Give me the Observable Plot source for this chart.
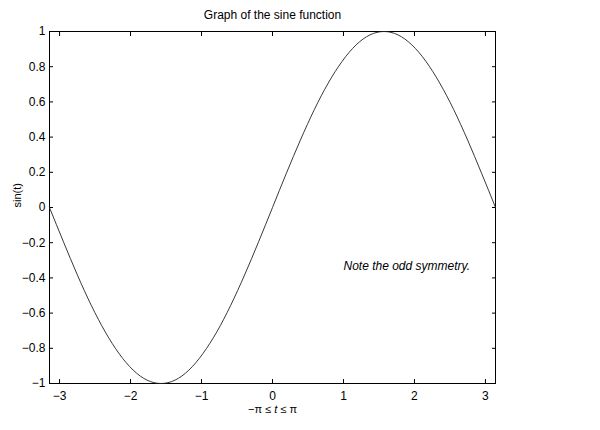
<!DOCTYPE html>
<html>
<head>
<meta charset="utf-8">
<script src="https://cdn.jsdelivr.net/npm/d3@7"></script>
<script src="https://cdn.jsdelivr.net/npm/@observablehq/plot@0.6"></script>
<style>
  html, body { margin: 0; padding: 0; background: white; }
</style>
</head>
<body>
<div id="chart"></div>
<script>
// Values
const tValues = [-3.142, -2.945, -2.749, -2.553, -2.356, -2.160, -1.963, -1.767, -1.571, -1.374, -1.178, -0.982, -0.785, -0.589, -0.393, -0.196,
  0, 0.196, 0.393, 0.589, 0.785, 0.982, 1.178, 1.374, 1.571, 1.767, 1.963, 2.160, 2.356, 2.553, 2.749, 2.945, 3.142];
const sinValues = [0, -0.195, -0.383, -0.556, -0.707, -0.831, -0.924, -0.981, -1.000, -0.981, -0.924, -0.831, -0.707, -0.556, -0.383, -0.195,
  0, 0.195, 0.383, 0.556, 0.707, 0.831, 0.924, 0.981, 1.000, 0.981, 0.924, 0.831, 0.707, 0.556, 0.383, 0.195, 0];
const xTicks = [-3, -2, -1, 0, 1, 2, 3];
const yTicks = [-1, -0.8, -0.6, -0.4, -0.2, 0, 0.2, 0.4, 0.6, 0.8, 1];
const titleText = "Graph of the sine function";
const xLabelText = "\u2212\u03c0 \u2264 t \u2264 \u03c0";
const yLabelText = "sin(t)";
const note = [{t: 1, v: -1 / 3, label: "Note the odd symmetry."}];

const data = tValues.map((t, i) => ({t, v: sinValues[i]}));
const fmt = d => (d < 0 ? "\u2212" : "") + String(Math.abs(Math.round(d * 10) / 10));
const blank = () => "";

const chart = Plot.plot({
  width: 600,
  height: 430,
  marginLeft: 49,
  marginRight: 105,
  marginTop: 31,
  marginBottom: 47,
  x: {domain: [-Math.PI, Math.PI]},
  y: {domain: [-1, 1]},
  style: {fontFamily: "'Liberation Sans', Arial, Helvetica, sans-serif", fontSize: "12px", background: "white", color: "black"},
  marks: [
    Plot.frame({stroke: "black", strokeWidth: 1}),
    Plot.axisX(xTicks, {anchor: "bottom", tickSize: -4, tickPadding: 12, tickFormat: fmt, label: null, stroke: "black", fontSize: 12}),
    Plot.axisX(xTicks, {anchor: "top", tickSize: -4, tickFormat: blank, label: null, stroke: "black"}),
    Plot.axisY(yTicks, {anchor: "left", tickSize: -4, tickPadding: 8, tickFormat: fmt, label: null, stroke: "black", fontSize: 12}),
    Plot.axisY(yTicks, {anchor: "right", tickSize: -4, tickFormat: blank, label: null, stroke: "black"}),
    Plot.line(data, {x: "t", y: "v", stroke: "#222", strokeWidth: 0.9, curve: "natural"}),
    Plot.text(note, {x: "t", y: "v", text: "label", textAnchor: "start", lineAnchor: "middle", fontStyle: "italic", fontSize: 12, fill: "black"}),
    Plot.text([titleText], {frameAnchor: "top", lineAnchor: "bottom", dy: -13, fontSize: 12, fill: "black"}),
    Plot.text([xLabelText], {frameAnchor: "bottom", lineAnchor: "bottom", dy: 29, fontSize: 11, fill: "black"}),
    Plot.text([yLabelText], {frameAnchor: "left", lineAnchor: "bottom", rotate: -90, dx: -29, fontSize: 11, fill: "black"})
  ]
});

// italicize the "t" in the x label while keeping it real text
for (const el of chart.querySelectorAll("text")) {
  if (el.textContent === xLabelText) {
    const target = el.querySelector("tspan") || el;
    target.textContent = "";
    const parts = [["\u2212\u03c0 \u2264 ", null], ["t", "italic"], [" \u2264 \u03c0", null]];
    for (const [s, style] of parts) {
      const ts = document.createElementNS("http://www.w3.org/2000/svg", "tspan");
      ts.textContent = s;
      if (style) ts.setAttribute("font-style", style);
      target.appendChild(ts);
    }
  }
}

document.getElementById("chart").appendChild(chart);
</script>
</body>
</html>
